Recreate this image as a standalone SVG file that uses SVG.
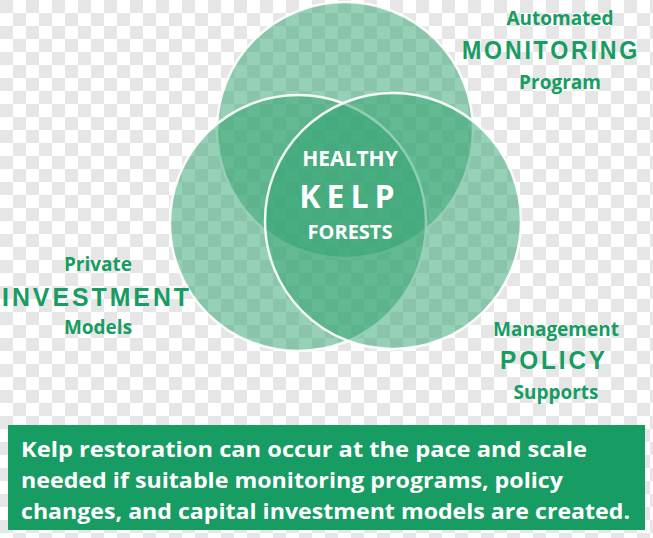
<svg xmlns="http://www.w3.org/2000/svg" width="653" height="538" viewBox="0 0 653 538">
<defs>
<pattern id="chk" width="26" height="26" patternUnits="userSpaceOnUse">
<rect width="26" height="26" fill="#ffffff"/>
<rect width="13" height="13" fill="#e6e6e6"/>
<rect x="13" y="13" width="13" height="13" fill="#e6e6e6"/>
</pattern>
</defs>
<style>
.c{fill:#2ea26e;fill-opacity:0.5;stroke:#ffffff;stroke-width:2.5;stroke-opacity:0.9}
.lab{font-family:"Open Sans","Liberation Sans",sans-serif;font-weight:bold;fill:#179c63;text-anchor:middle}
.big{font-family:"Liberation Sans","Open Sans",sans-serif;font-weight:bold;fill:#179c63;font-size:25px}
.in{font-family:"Open Sans","Liberation Sans",sans-serif;font-weight:bold;fill:#ffffff;text-anchor:middle}
.box{font-family:"Open Sans","Liberation Sans",sans-serif;font-weight:bold;fill:#ffffff;font-size:21.5px}
</style>
<rect width="653" height="538" fill="url(#chk)"/>
<g id="circles">
<circle id="c-top" class="c" cx="345" cy="130" r="128"/>
<circle id="c-left" class="c" cx="298" cy="223" r="128"/>
<circle id="c-right" class="c" cx="393" cy="221" r="128"/>
</g>
<g id="center">
<text class="in" x="350" y="166" font-size="21">HEALTHY</text>
<text class="in" x="350" y="208" font-size="32" letter-spacing="6">KELP</text>
<text class="in" x="350" y="239" font-size="20">FORESTS</text>
</g>
<g id="monitoring">
<text class="lab" x="560" y="25" font-size="19">Automated</text>
<text class="big" x="462" y="59" textLength="178" lengthAdjust="spacingAndGlyphs" letter-spacing="3">MONITORING</text>
<text class="lab" x="560" y="89" font-size="19">Program</text>
</g>
<g id="investment">
<text class="lab" x="98" y="271" font-size="19">Private</text>
<text class="big" x="2" y="306" textLength="190" lengthAdjust="spacingAndGlyphs" letter-spacing="3">INVESTMENT</text>
<text class="lab" x="98" y="334" font-size="19">Models</text>
</g>
<g id="policy">
<text class="lab" x="556" y="336" font-size="19">Management</text>
<text class="big" x="500" y="369" textLength="108" lengthAdjust="spacingAndGlyphs" letter-spacing="3">POLICY</text>
<text class="lab" x="556" y="399" font-size="19">Supports</text>
</g>
<g id="summary">
<rect x="8" y="425" width="637" height="105" fill="#179c63"/>
<text class="box" x="21" y="457" textLength="566" lengthAdjust="spacingAndGlyphs">Kelp restoration can occur at the pace and scale</text>
<text class="box" x="21" y="488" textLength="542" lengthAdjust="spacingAndGlyphs">needed if suitable monitoring programs, policy</text>
<text class="box" x="21" y="519" textLength="609" lengthAdjust="spacingAndGlyphs">changes, and capital investment models are created.</text>
</g>
</svg>
